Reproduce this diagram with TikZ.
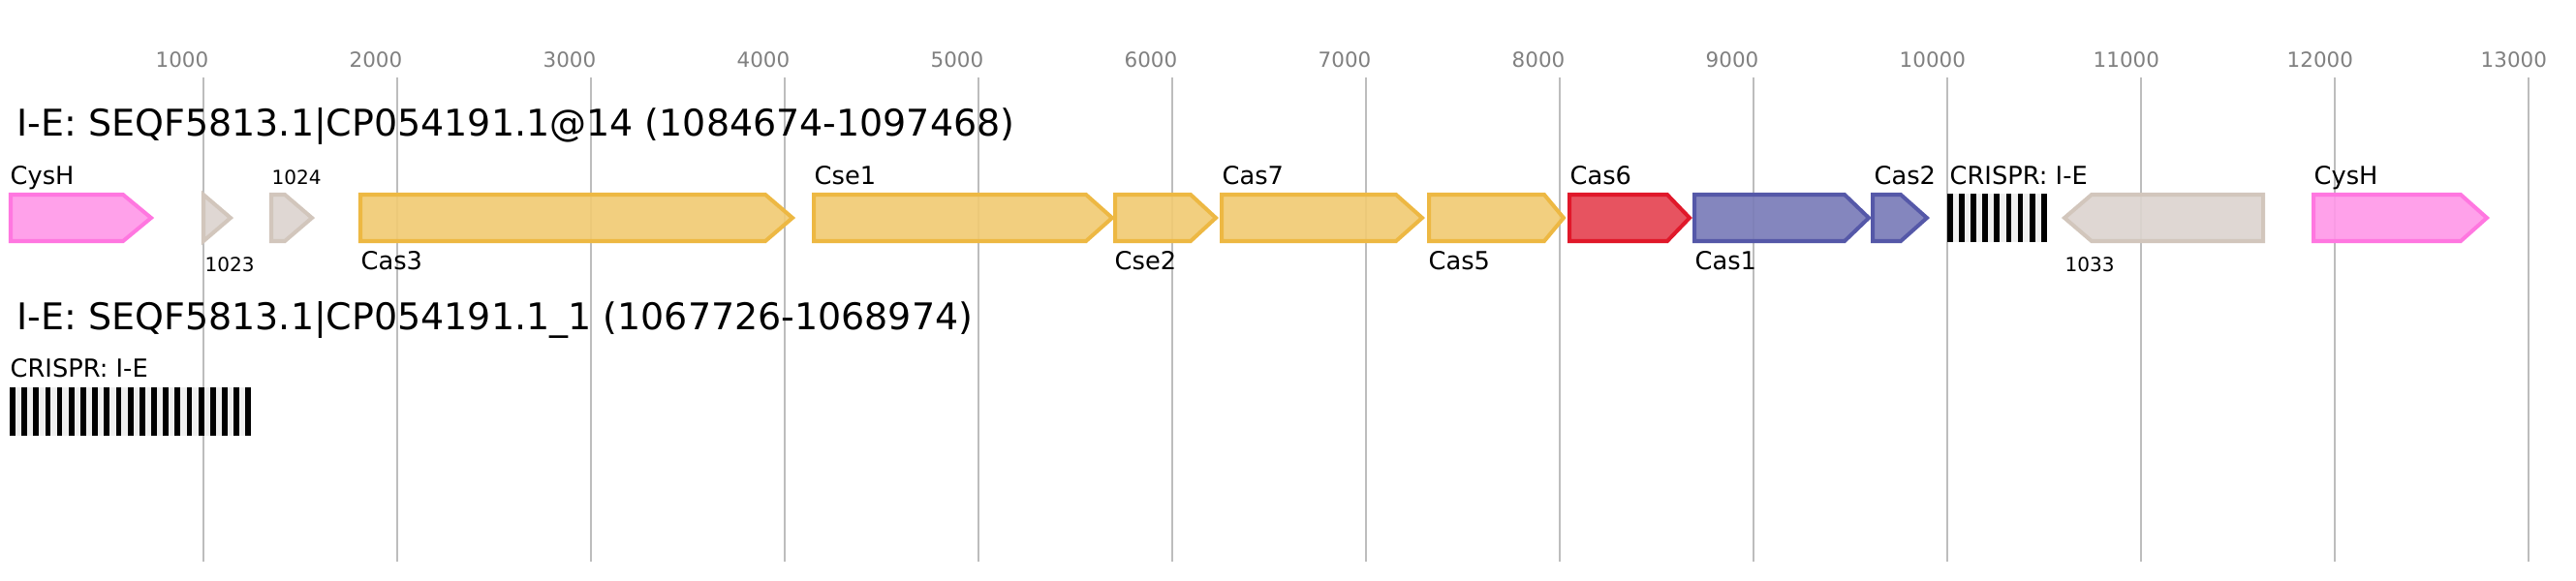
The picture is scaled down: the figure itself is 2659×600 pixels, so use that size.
\documentclass[tikz,border=0pt]{standalone}
\usepackage{fontspec}
\setmainfont{DejaVu Sans}
\definecolor{pinkfill}{HTML}{FF99E8}
\definecolor{pinkborder}{HTML}{FF77E0}
\definecolor{goldfill}{HTML}{F1CB74}
\definecolor{goldborder}{HTML}{EDB843}
\definecolor{redfill}{HTML}{E54452}
\definecolor{redborder}{HTML}{E0182A}
\definecolor{bluefill}{HTML}{7A7CB8}
\definecolor{blueborder}{HTML}{5558A8}
\definecolor{beigefill}{HTML}{DCD4CF}
\definecolor{beigeborder}{HTML}{D2C6BC}
\definecolor{gridgray}{HTML}{BDBDBD}
\definecolor{tickgray}{HTML}{808080}
\definecolor{spacergray}{HTML}{EFEFEF}
\tikzset{gene/.style={draw=#1border, fill=#1fill, line width=1.14pt, line join=miter, fill opacity=0.92}}
\tikzset{gridline/.style={draw=gridgray, line width=0.57pt}}
\tikzset{ticklabel/.style={anchor=base west, inner sep=0pt, text=tickgray, font=\fontsize{6.1}{7}\selectfont}}
\tikzset{locustitle/.style={anchor=base west, inner sep=0pt, font=\fontsize{10.8}{12}\selectfont}}
\tikzset{genelabel/.style={anchor=base west, inner sep=0pt, font=\fontsize{7.3}{8}\selectfont}}
\tikzset{smalllabel/.style={anchor=base west, inner sep=0pt, font=\fontsize{5.7}{6}\selectfont}}
\tikzset{repeatbar/.style={fill=black}}

\begin{document}
\begin{tikzpicture}[x=0.01cm, y=-0.01cm]
            \useasboundingbox (0,0) rectangle (2659,600);
            \foreach \k in {1,...,13} {
                \draw[gridline] ({10+200*\k},80) -- ({10+200*\k},580);
                \node[ticklabel] (tick\k) at ({10+200*\k-50},70) {\k000};
            }
            \node[locustitle] (locusone) at (17,140) {I-E: SEQF5813.1|CP054191.1@14 (1084674-1097468)};
            \node[locustitle] (locustwo) at (17,340) {I-E: SEQF5813.1|CP054191.1\_1 (1067726-1068974)};
            \foreach \a/\b/\c/\col in {11/127/156/pink, 210/210/238/beige, 280/294/322/beige, 372/790/818/gold,
                    840/1121/1148/gold, 1151/1229/1255/gold, 1261/1441/1468/gold, 1475/1594/1614/gold,
                    1620/1721/1744/red, 1749/1904/1929/blue, 1933/1962/1989/blue, 2336/2159/2131/beige,
                    2388/2540/2567/pink} {
                \draw[gene=\col] (\a,201) -- (\b,201) -- (\c,225) -- (\b,249) -- (\a,249) -- cycle;
            }
            \foreach \x/\t/\n in {10/CysH/cyshone, 840/Cse1/cseone, 1261/Cas7/casseven, 1620/Cas6/cassix,
                    1934/Cas2/castwo, 2012/CRISPR: I-E/crisprone, 2388/CysH/cyshtwo} {
                \node[genelabel] (\n) at (\x,190) {\t};
            }
            \foreach \x/\t/\n in {372/Cas3/casthree, 1150/Cse2/csetwo, 1474/Cas5/casfive, 1749/Cas1/casone} {
                \node[genelabel] (\n) at (\x,278) {\t};
            }
            \node[smalllabel] (orfa) at (211,280) {1023};
            \node[smalllabel] (orfb) at (280,190) {1024};
            \node[smalllabel] (orfc) at (2131,280) {1033};
            \node[genelabel] (crisprtwo) at (10,389) {CRISPR: I-E};
            \fill[spacergray] (2010,200) rectangle (2113,250);
            \foreach \i in {0,...,8} {
                \fill[repeatbar] ({2010+12.11*\i},200) rectangle ({2015.8+12.11*\i},250);
            }
            \fill[spacergray] (10,400) rectangle (259,450);
            \foreach \i in {0,...,20} {
                \fill[repeatbar] ({10+12.17*\i},400) rectangle ({15.8+12.17*\i},450);
            }
        \end{tikzpicture}
\end{document}
